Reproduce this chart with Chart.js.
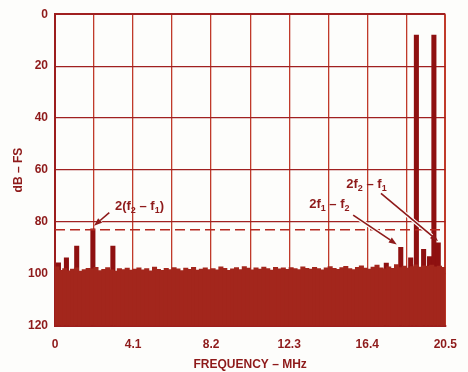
<!DOCTYPE html>
<html>
<head>
<meta charset="utf-8">
<script src="https://cdn.jsdelivr.net/npm/chart.js@4.4.0/dist/chart.umd.min.js"></script>
<style>
  html, body { margin: 0; padding: 0; background: #fdfdfb; }
</style>
</head>
<body>
<canvas id="spectrum" width="468" height="372"></canvas>
<script>
// Two-tone FFT spectrum, dBFS vs frequency
const binWidth = 0.205; // MHz per noise bin (100 bins up to 20.5 MHz)

// noise floor, one value per bin (dB below full scale)
const noiseLevel = [
  97.2, 98.6, 97.9, 98.8, 98.1, 97.6, 98.9, 98.3, 97.8, 98.0,
  97.4, 98.7, 98.2, 97.5, 98.4, 98.9, 97.9, 98.3, 97.7, 98.5,
  98.1, 97.6, 98.4, 97.9, 98.8, 97.3, 98.2, 98.6, 97.8, 98.3,
  97.5, 98.0, 98.7, 97.7, 98.2, 97.4, 98.5, 98.1, 97.6, 98.3,
  97.9, 98.4, 97.2, 97.8, 98.6, 98.0, 97.5, 98.3, 97.1, 97.7,
  98.4, 97.6, 98.1, 97.3, 97.9, 98.5, 97.4, 98.0, 97.6, 98.2,
  97.5, 97.9, 98.3, 97.2, 97.8, 98.1, 97.4, 97.9, 98.4, 97.6,
  97.1, 97.8, 98.2, 97.5, 97.0, 97.9, 98.3, 97.4, 96.8, 97.7,
  98.1, 97.3, 96.6, 97.6, 98.0, 97.2, 97.8, 96.4, 97.5, 96.9,
  97.7, 97.1, 96.5, 97.3, 96.8, 97.0, 96.6, 97.2, 96.9, 97.4
];

// tones and spurs
const spurFreq  = [0.18, 0.6, 1.14, 1.99, 3.04, 17.4, 18.16, 18.68, 18.98, 19.36, 19.67, 19.9, 20.13];
const spurLevel = [95.7, 93.8, 89.2, 82.6, 89.2, 95.8, 89.7, 93.8, 8, 90.5, 93.3, 8, 88];

const dashLevel = 83;

const xGridValues = [0, 2.05, 4.1, 6.15, 8.2, 10.25, 12.3, 14.35, 16.4, 18.45, 20.5];
const xTickLabels = ['0', '4.1', '8.2', '12.3', '16.4', '20.5'];

const ink = '#8e1a1a';
const fontFamily = '"Liberation Sans", Arial, Helvetica, sans-serif';

const annotations = [
  { x: 3.15, y: 75.2, parts: [['2(f'], ['2', true], [' \u2013 f'], ['1', true], [')']], from: [2.85, 76.4], to: [2.05, 81.4] },
  { x: 13.35, y: 74.4, parts: [['2f'], ['1', true], [' \u2013 f'], ['2', true]], from: [15.66, 77.3], to: [17.95, 88.6] },
  { x: 15.3, y: 66.7, parts: [['2f'], ['2', true], [' \u2013 f'], ['1', true]], from: [17.12, 69.0], to: [20.12, 87.3] }
];

const noisePoints = noiseLevel.map((v, i) => ({ x: (i + 0.5) * binWidth, y: v }));
const spurPoints = spurFreq.map((f, i) => ({ x: f, y: spurLevel[i] }));

function drawArrow(ctx, x1, y1, x2, y2) {
  const a = Math.atan2(y2 - y1, x2 - x1);
  const head = 8, half = 3;
  const bx = x2 - head * Math.cos(a), by = y2 - head * Math.sin(a);
  ctx.strokeStyle = '#fdfdfb';
  ctx.lineWidth = 4;
  ctx.beginPath(); ctx.moveTo(x1, y1); ctx.lineTo(bx, by); ctx.stroke();
  ctx.strokeStyle = ink;
  ctx.lineWidth = 1.6;
  ctx.beginPath(); ctx.moveTo(x1, y1); ctx.lineTo(bx, by); ctx.stroke();
  ctx.fillStyle = ink;
  ctx.beginPath();
  ctx.moveTo(x2, y2);
  ctx.lineTo(bx + half * Math.sin(a), by - half * Math.cos(a));
  ctx.lineTo(bx - half * Math.sin(a), by + half * Math.cos(a));
  ctx.closePath();
  ctx.fill();
}

const labelPlugin = {
  id: 'labels',
  afterDatasetsDraw(chart) {
    const { ctx, scales: { x, y } } = chart;
    ctx.save();
    annotations.forEach(a => {
      drawArrow(ctx, x.getPixelForValue(a.from[0]), y.getPixelForValue(a.from[1]),
                x.getPixelForValue(a.to[0]), y.getPixelForValue(a.to[1]));
      let px = x.getPixelForValue(a.x);
      const py = y.getPixelForValue(a.y);
      ctx.textBaseline = 'alphabetic';
      ctx.textAlign = 'left';
      ctx.fillStyle = ink;
      a.parts.forEach(([t, sub]) => {
        ctx.font = (sub ? 'bold 9px ' : 'bold 13px ') + fontFamily;
        ctx.fillText(t, px, sub ? py + 3 : py);
        px += ctx.measureText(t).width;
      });
    });
    ctx.restore();
  }
};

new Chart(document.getElementById('spectrum'), {
  type: 'bar',
  data: {
    datasets: [
      {
        type: 'line',
        data: [{ x: 0, y: dashLevel }, { x: 20.5, y: dashLevel }],
        borderColor: '#b52a22',
        borderWidth: 1.5,
        borderDash: [10, 5],
        pointRadius: 0,
        order: 1
      },
      {
        data: noisePoints,
        backgroundColor: '#a3261c',
        base: 120,
        grouped: false,
        barThickness: 4.4,
        order: 2
      },
      {
        data: spurPoints,
        backgroundColor: '#8e1010',
        base: 120,
        grouped: false,
        barThickness: 4.4,
        order: 3
      }
    ]
  },
  options: {
    responsive: false,
    animation: false,
    layout: { padding: { top: 14, right: 18, bottom: 0, left: 0 } },
    plugins: { legend: { display: false }, tooltip: { enabled: false } },
    scales: {
      x: {
        type: 'linear',
        min: 0,
        max: 20.5,
        offset: false,
        afterBuildTicks: s => { s.ticks = xGridValues.map(v => ({ value: v })); },
        afterFit: s => { s.height = 46; },
        grid: {
          offset: false,
          drawTicks: false,
          color: '#c03a2a',
          lineWidth: c => (c.tick && c.tick.value > 20.4 ? 2 : 1.3)
        },
        border: { color: '#9c1d1d', width: 2 },
        ticks: {
          autoSkip: false,
          maxRotation: 0,
          padding: 11,
          color: ink,
          font: { family: fontFamily, size: 12, weight: 'bold' },
          callback: (v, i) => (i % 2 === 0 ? xTickLabels[i / 2] : '')
        },
        title: {
          display: true,
          text: 'FREQUENCY \u2013 MHz',
          color: ink,
          padding: { top: 0, bottom: 0 },
          font: { family: fontFamily, size: 12, weight: 'bold' }
        }
      },
      y: {
        min: 0,
        max: 120,
        reverse: true,
        afterFit: s => { s.width = 55; },
        grid: {
          drawTicks: false,
          color: '#a02020',
          lineWidth: c => (c.tick && c.tick.value === 0 ? 2 : 1.3)
        },
        border: { color: '#9c1d1d', width: 2 },
        ticks: {
          stepSize: 20,
          padding: 7,
          color: ink,
          font: { family: fontFamily, size: 12, weight: 'bold' }
        },
        title: {
          display: true,
          text: 'dB \u2013 FS',
          color: ink,
          padding: { top: 11, bottom: 0 },
          font: { family: fontFamily, size: 12, weight: 'bold' }
        }
      }
    }
  },
  plugins: [labelPlugin]
});
</script>
</body>
</html>
